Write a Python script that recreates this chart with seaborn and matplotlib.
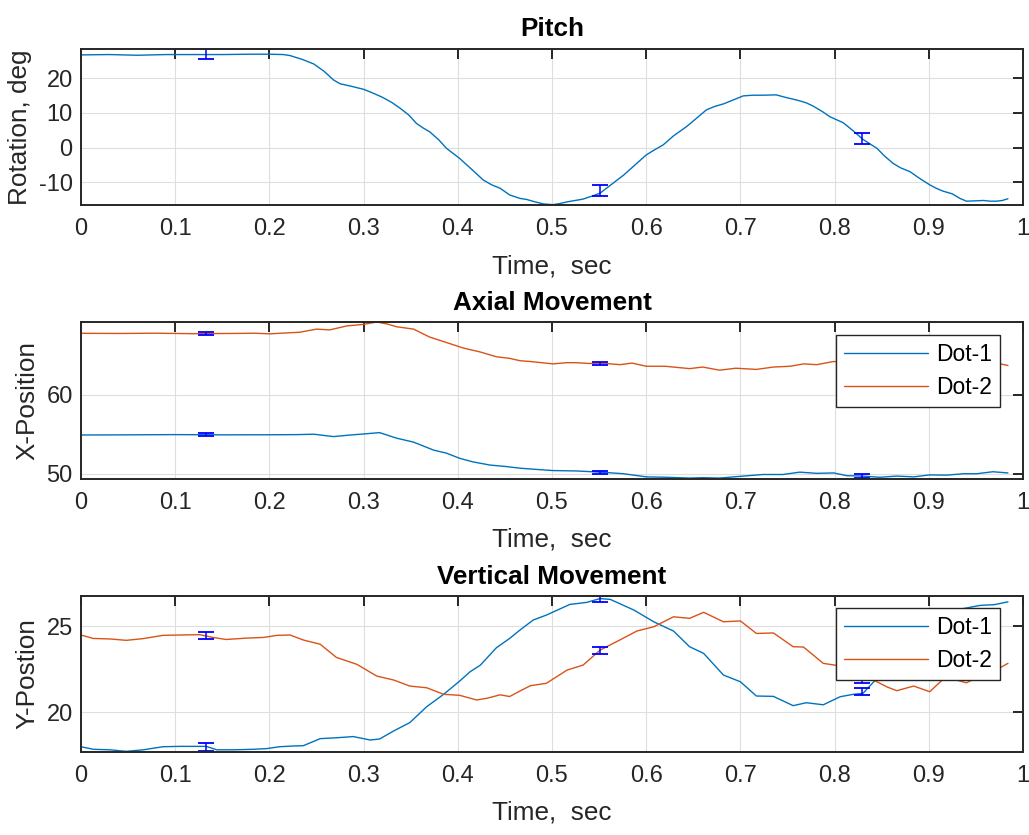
import numpy as np
import pandas as pd
import matplotlib
matplotlib.use("Agg")
import matplotlib.pyplot as plt
import seaborn as sns

# ---------------- data ----------------
pitch_t = [0.000, 0.030, 0.060, 0.090, 0.120, 0.150, 0.180, 0.200, 0.215, 0.222,
           0.235, 0.247, 0.258, 0.268, 0.275, 0.288, 0.300, 0.310, 0.320, 0.330,
           0.339, 0.348, 0.356, 0.363, 0.370, 0.380, 0.388, 0.402, 0.415, 0.427,
           0.436, 0.445, 0.455, 0.466, 0.473, 0.482, 0.491, 0.501, 0.508, 0.516,
           0.533, 0.545, 0.551, 0.563, 0.576, 0.588, 0.600, 0.609, 0.618, 0.629,
           0.643, 0.654, 0.664, 0.673, 0.682, 0.693, 0.703, 0.713, 0.724, 0.738,
           0.749, 0.760, 0.770, 0.777, 0.787, 0.795, 0.809, 0.820, 0.830, 0.845,
           0.853, 0.862, 0.870, 0.880, 0.890, 0.901, 0.908, 0.915, 0.925, 0.933,
           0.940, 0.950, 0.958, 0.965, 0.972, 0.978, 0.984]
pitch_deg = [26.7, 26.8, 26.6, 26.8, 26.8, 26.8, 26.9, 26.9, 26.8, 26.5,
             25.4, 24.1, 22.0, 19.5, 18.4, 17.6, 16.8, 15.7, 14.5, 13.0,
             11.3, 9.4, 7.0, 5.7, 4.6, 2.2, -0.2, -3.1, -6.3, -9.3,
             -10.7, -11.7, -13.6, -14.6, -14.9, -15.6, -16.2, -16.4, -16.1, -15.6,
             -14.8, -13.7, -13.1, -10.6, -7.9, -5.0, -2.1, -0.6, 0.8, 3.4,
             6.1, 8.6, 10.9, 11.9, 12.6, 13.8, 14.9, 15.1, 15.1, 15.2,
             14.4, 13.7, 12.9, 12.0, 10.4, 8.9, 7.2, 4.8, 2.4, -0.2,
             -2.4, -4.5, -5.8, -6.9, -8.8, -10.7, -11.7, -12.5, -13.3, -14.6,
             -15.4, -15.3, -15.2, -15.4, -15.4, -15.2, -14.7]

xpos_dot1_t = [0.000, 0.050, 0.100, 0.150, 0.200, 0.230, 0.247, 0.268, 0.286, 0.303,
               0.317, 0.335, 0.353, 0.374, 0.388, 0.402, 0.416, 0.434, 0.452, 0.466,
               0.477, 0.501, 0.526, 0.551, 0.576, 0.600, 0.622, 0.646, 0.660, 0.678,
               0.703, 0.724, 0.745, 0.763, 0.781, 0.799, 0.813, 0.830, 0.848, 0.866,
               0.884, 0.901, 0.919, 0.937, 0.951, 0.968, 0.984]
xpos_dot1 = [54.90, 54.92, 54.95, 54.92, 54.93, 54.95, 55.00, 54.70, 54.90, 55.06,
             55.20, 54.50, 54.00, 53.00, 52.60, 51.95, 51.50, 51.10, 50.90, 50.70,
             50.60, 50.40, 50.35, 50.20, 50.00, 49.60, 49.55, 49.45, 49.50, 49.45,
             49.70, 49.90, 49.90, 50.20, 50.05, 50.10, 49.75, 49.70, 49.55, 49.70,
             49.60, 49.85, 49.82, 50.00, 50.00, 50.25, 50.10]

xpos_dot2_t = [0.000, 0.040, 0.080, 0.120, 0.160, 0.185, 0.200, 0.215, 0.232, 0.250,
               0.264, 0.282, 0.300, 0.314, 0.325, 0.335, 0.353, 0.370, 0.388, 0.406,
               0.424, 0.441, 0.455, 0.466, 0.477, 0.501, 0.515, 0.526, 0.540, 0.551,
               0.562, 0.572, 0.585, 0.600, 0.620, 0.646, 0.660, 0.678, 0.695, 0.717,
               0.735, 0.753, 0.767, 0.781, 0.799, 0.815, 0.830, 0.850, 0.870, 0.890,
               0.910, 0.930, 0.950, 0.976, 0.984]
xpos_dot2 = [67.77, 67.75, 67.78, 67.72, 67.75, 67.78, 67.70, 67.80, 67.90, 68.30,
             68.20, 68.70, 68.90, 69.20, 68.95, 68.60, 68.30, 67.30, 66.60, 65.90,
             65.40, 64.80, 64.60, 64.30, 64.20, 63.90, 64.05, 64.05, 63.95, 64.00,
             63.90, 63.80, 64.00, 63.60, 63.60, 63.30, 63.50, 63.10, 63.35, 63.20,
             63.50, 63.60, 63.90, 63.80, 64.20, 64.10, 64.00, 64.20, 63.90, 64.10,
             63.90, 64.10, 63.80, 63.90, 63.70]

ypos_dot1_t = [0.000, 0.013, 0.031, 0.048, 0.066, 0.087, 0.105, 0.133, 0.144, 0.162,
               0.183, 0.197, 0.211, 0.225, 0.236, 0.254, 0.271, 0.289, 0.307, 0.317,
               0.332, 0.349, 0.367, 0.385, 0.402, 0.413, 0.424, 0.441, 0.455, 0.466,
               0.480, 0.494, 0.519, 0.537, 0.551, 0.562, 0.587, 0.608, 0.629, 0.646,
               0.661, 0.682, 0.700, 0.717, 0.735, 0.756, 0.770, 0.788, 0.806, 0.820,
               0.830, 0.845, 0.860, 0.880, 0.900, 0.920, 0.935, 0.954, 0.970, 0.984]
ypos_dot1 = [17.98, 17.83, 17.80, 17.71, 17.80, 17.98, 18.00, 18.00, 17.80, 17.80,
             17.83, 17.87, 17.98, 18.02, 18.04, 18.45, 18.50, 18.57, 18.37, 18.43,
             18.90, 19.38, 20.31, 21.03, 21.80, 22.34, 22.73, 23.74, 24.28, 24.77,
             25.35, 25.64, 26.26, 26.38, 26.60, 26.55, 25.93, 25.25, 24.71, 23.80,
             23.41, 22.15, 21.76, 20.93, 20.91, 20.37, 20.54, 20.42, 20.89, 21.03,
             21.08, 21.96, 22.60, 23.40, 24.40, 25.30, 26.00, 26.20, 26.25, 26.41]

ypos_dot2_t = [0.000, 0.013, 0.031, 0.048, 0.066, 0.087, 0.105, 0.126, 0.140, 0.154,
               0.176, 0.194, 0.208, 0.222, 0.236, 0.254, 0.271, 0.293, 0.314, 0.332,
               0.349, 0.367, 0.385, 0.402, 0.420, 0.431, 0.445, 0.455, 0.466, 0.477,
               0.494, 0.516, 0.533, 0.551, 0.572, 0.590, 0.608, 0.629, 0.646, 0.661,
               0.682, 0.700, 0.717, 0.735, 0.756, 0.767, 0.788, 0.800, 0.815, 0.830,
               0.845, 0.856, 0.866, 0.884, 0.901, 0.915, 0.930, 0.940, 0.955, 0.970,
               0.984]
ypos_dot2 = [24.48, 24.28, 24.25, 24.17, 24.27, 24.46, 24.48, 24.50, 24.34, 24.22,
             24.30, 24.34, 24.46, 24.48, 24.19, 23.94, 23.18, 22.77, 22.09, 21.86,
             21.51, 21.41, 21.03, 20.97, 20.70, 20.80, 21.00, 20.90, 21.22, 21.53,
             21.67, 22.44, 22.73, 23.60, 24.19, 24.71, 24.96, 25.54, 25.45, 25.80,
             25.25, 25.30, 24.57, 24.60, 23.80, 23.78, 22.83, 22.73, 22.60, 22.10,
             21.76, 21.45, 21.24, 21.51, 21.18, 21.90, 21.85, 21.70, 22.10, 22.40,
             22.83]

# error bars at three sample instants
err_t = [0.133, 0.551, 0.829]
pitch_err_mean = [26.9, -12.25, 2.7]
pitch_err_sd = [1.5, 1.65, 1.6]
xpos_dot1_err_mean = [54.95, 50.20, 49.72]
xpos_dot2_err_mean = [67.78, 64.00, 64.00]
xpos_err_sd = [0.2, 0.2, 0.2]
ypos_dot1_err_mean = [17.97, 26.58, 21.18]
ypos_dot1_err_sd = [0.22, 0.17, 0.20]
ypos_dot2_err_mean = [24.44, 23.57, 21.90]
ypos_dot2_err_sd = [0.21, 0.22, 0.22]

series_names = ["Dot-1", "Dot-2"]
x_ticks = [0, 0.1, 0.2, 0.3, 0.4, 0.5, 0.6, 0.7, 0.8, 0.9, 1.0]
x_tick_labels = ["0", "0.1", "0.2", "0.3", "0.4", "0.5", "0.6", "0.7", "0.8", "0.9", "1"]

# ---------------- style ----------------
sns.set_theme(style="white")
plt.rcParams["font.family"] = ["Liberation Sans", "DejaVu Sans"]
plt.rcParams["axes.edgecolor"] = "#262626"
plt.rcParams["axes.unicode_minus"] = False

C1 = "#0072BD"
C2 = "#D95319"
EBC = "#0000FF"
TXT = "#262626"
TICK_FS = 17
LABEL_FS = 18.8
LEGEND_FS = 16.5

fig = plt.figure(figsize=(10.29, 8.35), dpi=100)
fig.patch.set_facecolor("white")

ax_pos = [
    [81 / 1029, 1 - 205 / 835, 942 / 1029, 156 / 835],
    [81 / 1029, 1 - 478.7 / 835, 942 / 1029, 156.7 / 835],
    [81 / 1029, 1 - 751.7 / 835, 942 / 1029, 155.7 / 835],
]
axes = [fig.add_axes(p) for p in ax_pos]


def style_axis(ax, title, ylabel, ylim, yticks):
    ax.set_xlim(0, 1)
    ax.set_ylim(*ylim)
    ax.set_xticks(x_ticks)
    ax.set_xticklabels(x_tick_labels)
    ax.set_yticks(yticks)
    ax.grid(True, color="#dedede", linewidth=0.8)
    ax.set_axisbelow(True)
    for s in ax.spines.values():
        s.set_linewidth(1.4)
        s.set_color(TXT)
        s.set_zorder(5)
    ax.tick_params(direction="in", length=7.2, width=1.4, top=True, right=True,
                   labelsize=TICK_FS, colors=TXT, zorder=6)
    ax.tick_params(axis="x", pad=9.5)
    ax.tick_params(axis="y", pad=6)
    ax.set_title(title, fontsize=LABEL_FS, fontweight="bold", color="black", pad=9)
    ax.set_xlabel("Time,  sec", fontsize=LABEL_FS, color=TXT, labelpad=10)
    ax.set_ylabel(ylabel, fontsize=LABEL_FS, color=TXT, labelpad=5)


def draw_err(ax, mean, sd):
    ax.errorbar(err_t, mean, yerr=sd, fmt="none", ecolor=EBC, elinewidth=1.1,
                capsize=6.1, capthick=1.3, zorder=3)


def add_legend(ax, top):
    leg = ax.legend(loc="upper right", bbox_to_anchor=(0.9756, top), borderaxespad=0,
                    fontsize=LEGEND_FS, frameon=True, fancybox=False, framealpha=1,
                    edgecolor=TXT, handlelength=3.65, handletextpad=0.35,
                    labelspacing=0.42, borderpad=0.36)
    leg.get_frame().set_linewidth(1.0)
    leg.set_zorder(10)
    for txt in leg.get_texts():
        txt.set_color("black")


# Pitch
ax = axes[0]
sns.lineplot(x=pitch_t, y=pitch_deg, ax=ax, color=C1, linewidth=1.0)
draw_err(ax, pitch_err_mean, pitch_err_sd)
style_axis(ax, "Pitch", "Rotation, deg", (-16.5, 28.4), [-10, 0, 10, 20])

# Axial movement
ax = axes[1]
df_x = pd.concat([
    pd.DataFrame({"t": xpos_dot1_t, "pos": xpos_dot1, "dot": series_names[0]}),
    pd.DataFrame({"t": xpos_dot2_t, "pos": xpos_dot2, "dot": series_names[1]}),
])
sns.lineplot(data=df_x, x="t", y="pos", hue="dot", palette=[C1, C2], ax=ax,
             linewidth=1.0)
draw_err(ax, xpos_dot1_err_mean, xpos_err_sd)
draw_err(ax, xpos_dot2_err_mean, xpos_err_sd)
style_axis(ax, "Axial Movement", "X-Position", (49.37, 69.2), [50, 60])
add_legend(ax, 0.917)

# Vertical movement
ax = axes[2]
df_y = pd.concat([
    pd.DataFrame({"t": ypos_dot1_t, "pos": ypos_dot1, "dot": series_names[0]}),
    pd.DataFrame({"t": ypos_dot2_t, "pos": ypos_dot2, "dot": series_names[1]}),
])
sns.lineplot(data=df_y, x="t", y="pos", hue="dot", palette=[C1, C2], ax=ax,
             linewidth=1.0)
draw_err(ax, ypos_dot1_err_mean, ypos_dot1_err_sd)
draw_err(ax, ypos_dot2_err_mean, ypos_dot2_err_sd)
style_axis(ax, "Vertical Movement", "Y-Postion", (17.69, 26.75), [20, 25])
add_legend(ax, 0.923)

fig.savefig("out.png", dpi=100, facecolor="white")
